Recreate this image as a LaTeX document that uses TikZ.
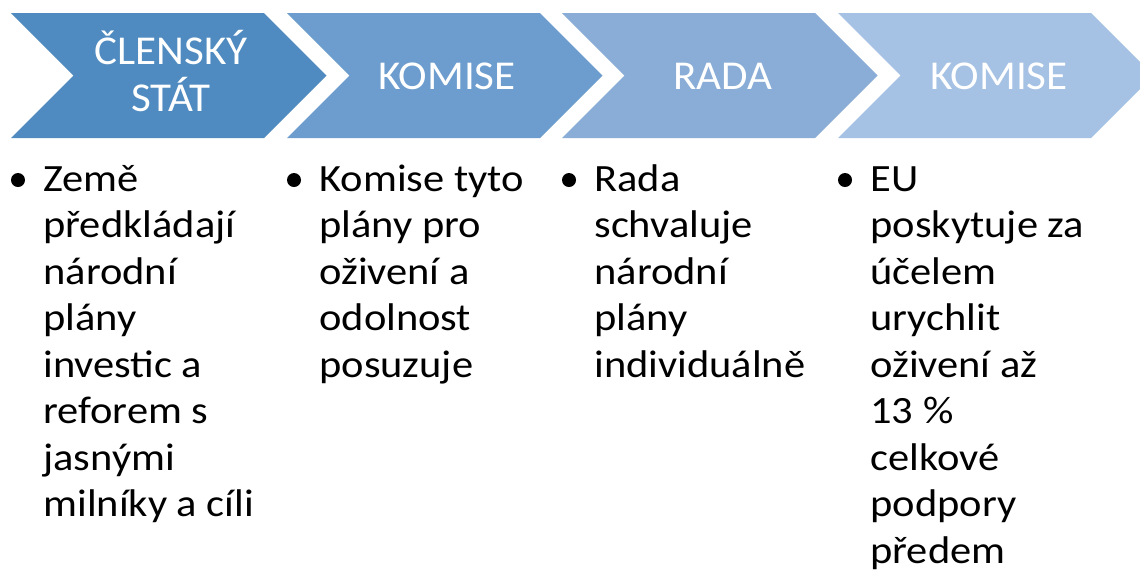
\documentclass[tikz,border=0pt]{standalone}
\usepackage{fontspec}
\setmainfont{Carlito}
\newfontfamily\bodyfont[FakeStretch=1.1]{Carlito}
\newfontfamily\headfont[FakeStretch=1.05]{Carlito}
\definecolor{cA}{RGB}{79,139,192}
\definecolor{cB}{RGB}{108,157,206}
\definecolor{cC}{RGB}{137,173,214}
\definecolor{cD}{RGB}{165,193,228}
\tikzset{
  headtext/.style={text=white, inner sep=0pt, align=center, font=\headfont\fontsize{20.5}{23.5}\selectfont},
  bodytext/.style={anchor=base west, inner sep=0pt, text=black},
  bulletdot/.style={fill=black, circle, inner sep=0pt, minimum size=7pt},
}
\newcommand{\chev}[2]{%
  \fill[#2] (#1,13) -- (#1+253,13) -- (#1+315.5,75.5) -- (#1+253,138) -- (#1,138) -- (#1+62.5,75.5) -- cycle;}
\newcommand{\bodycol}[1]{\parbox[t]{280pt}{\raggedright\bodyfont\fontsize{19.3}{23.25}\selectfont #1}}
\begin{document}
\begin{tikzpicture}[x=0.5pt,y=-0.5pt]
\useasboundingbox (0,0) rectangle (1140,570);
\clip (0,0) rectangle (1140,570);
\fill[white] (0,0) rectangle (1140,570);
\chev{11}{cA}
\chev{287}{cB}
\chev{562}{cC}
\chev{838}{cD}
\node[headtext] (h1) at (171,71) {ČLENSKÝ\\STÁT};
\node[headtext] (h2) at (447,76) {KOMISE};
\node[headtext] (h3) at (723,76) {RADA};
\node[headtext] (h4) at (999,76) {KOMISE};
\node[bulletdot] (b1) at (18,180) {};
\node[bulletdot] (b2) at (294,180) {};
\node[bulletdot] (b3) at (569,180) {};
\node[bulletdot] (b4) at (845,180) {};
\node[bodytext] (t1) at (43,191) {\bodycol{Země\\předkládají\\národní\\plány\\investic a\\reforem s\\jasnými\\milníky a cíli}};
\node[bodytext] (t2) at (319,191) {\bodycol{Komise tyto\\plány pro\\oživení a\\odolnost\\posuzuje}};
\node[bodytext] (t3) at (594,191) {\bodycol{Rada\\schvaluje\\národní\\plány\\individuálně}};
\node[bodytext] (t4) at (870,191) {\bodycol{EU\\poskytuje za\\účelem\\urychlit\\oživení až\\13 \%\\celkové\\podpory\\předem}};
\end{tikzpicture}
\end{document}
